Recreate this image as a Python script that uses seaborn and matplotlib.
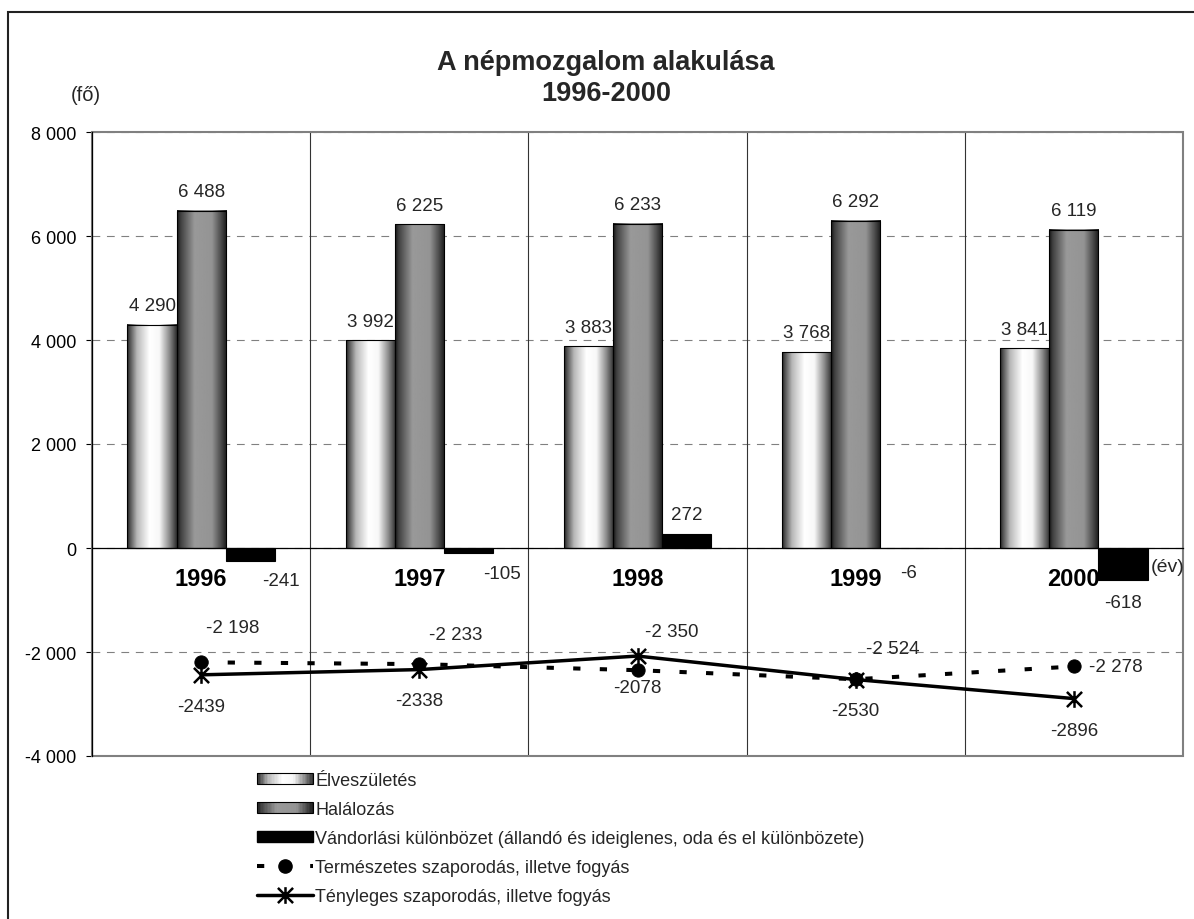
import numpy as np
import pandas as pd
import seaborn as sns
import matplotlib.pyplot as plt
from matplotlib.path import Path
from matplotlib.patches import Patch, Rectangle
from matplotlib.lines import Line2D
from matplotlib.legend_handler import HandlerBase
from matplotlib.ticker import FuncFormatter, MultipleLocator

years = ['1996', '1997', '1998', '1999', '2000']
births = [4290, 3992, 3883, 3768, 3841]
deaths = [6488, 6225, 6233, 6292, 6119]
migration = [-241, -105, 272, -6, -618]
natural = [-2198, -2233, -2350, -2524, -2278]
actual = [-2439, -2338, -2078, -2530, -2896]

series_names = ['Élveszületés', 'Halálozás',
                'Vándorlási különbözet (állandó és ideiglenes, oda és el különbözete)']
nat_name = 'Természetes szaporodás, illetve fogyás'
act_name = 'Tényleges szaporodás, illetve fogyás'

# cylinder-like shading profiles (position, grey level)
birth_prof = ([0, 0.05, 0.2, 0.45, 0.65, 0.85, 1.0], [0.12, 0.3, 0.72, 1.0, 0.97, 0.55, 0.18])
death_prof = ([0, 0.07, 0.35, 0.7, 0.88, 1.0], [0.08, 0.25, 0.6, 0.58, 0.3, 0.1])

W, H = 1194, 920


def fmt_sp(v):
    return f"{v:,.0f}".replace(',', ' ')


class GradientHandler(HandlerBase):
    def __init__(self, prof):
        super().__init__()
        self.prof = prof

    def create_artists(self, legend, orig_handle, xdescent, ydescent, width, height, fontsize, trans):
        n = 40
        arts = []
        for i in range(n):
            g = np.interp((i + 0.5) / n, *self.prof)
            arts.append(Rectangle((-xdescent + i * width / n, -ydescent), width / n * 1.05, height,
                                  facecolor=str(g), edgecolor='none', transform=trans))
        arts.append(Rectangle((-xdescent, -ydescent), width, height, fill=False,
                              edgecolor='black', lw=0.8, transform=trans))
        return arts


sns.set_theme(style='white')
plt.rcParams['font.family'] = ['Liberation Sans', 'DejaVu Sans']

df = pd.DataFrame({
    'year': years * 3,
    'value': births + deaths + migration,
    'series': [series_names[0]] * 5 + [series_names[1]] * 5 + [series_names[2]] * 5,
})

fig = plt.figure(figsize=(W / 100, H / 100), dpi=100)
ax = fig.add_axes([92 / W, 1 - 757 / H, (1183 - 92) / W, (757 - 133) / H])

sns.barplot(data=df, x='year', y='value', hue='series', palette=['#dddddd', '#777777', 'black'],
            width=0.675, edgecolor='black', linewidth=0.8, saturation=1, errorbar=None,
            legend=False, ax=ax)

# shaded bars
for k, prof in enumerate([birth_prof, death_prof]):
    grad = np.interp(np.linspace(0, 1, 128), *prof)[None, :]
    for bar in ax.containers[k]:
        x0, y0 = bar.get_xy()
        ax.imshow(grad, extent=(x0, x0 + bar.get_width(), y0, y0 + bar.get_height()),
                  cmap='gray', vmin=0, vmax=1, aspect='auto', interpolation='bilinear', zorder=0.9)
        bar.set_facecolor('none')
        bar.set_zorder(1)

xpos = np.arange(len(years))
star = Path([(-1, -1), (1, 1), (-1, 1), (1, -1), (0, -1.1), (0, 1.1)],
            [Path.MOVETO, Path.LINETO, Path.MOVETO, Path.LINETO, Path.MOVETO, Path.LINETO])
nat_style = dict(color='black', lw=2.9, linestyle=(0, (1.8, 4.8)), marker='o', ms=9.5, mec='black')
act_style = dict(color='black', lw=2.5, linestyle='-', marker=star, ms=12, mfc='none', mec='black', mew=1.8)
sns.lineplot(x=xpos, y=natural, ax=ax, zorder=3, **nat_style)
sns.lineplot(x=xpos, y=actual, ax=ax, zorder=3, **act_style)

ax.set_xlim(-0.5, len(years) - 0.5)
ax.set_ylim(-4000, 8000)
ax.yaxis.set_major_locator(MultipleLocator(2000))
ax.yaxis.set_major_formatter(FuncFormatter(lambda v, p: fmt_sp(v)))
ax.set_xlabel('')
ax.set_ylabel('')

ax.set_axisbelow(True)
ax.yaxis.grid(True, linestyle=(0, (7, 6)), color='#808080', lw=0.8)
ax.xaxis.grid(False)
for b in xpos[:-1] + 0.5:
    ax.axvline(b, color='#333333', lw=0.8, zorder=0.6)

for s in ['top', 'right']:
    ax.spines[s].set_visible(False)
ax.spines['bottom'].set_position(('data', 0))
ax.spines['bottom'].set_color('black')
ax.spines['bottom'].set_linewidth(0.9)
ax.spines['bottom'].set_zorder(2)
ax.spines['left'].set_color('black')
ax.spines['left'].set_linewidth(0.9)
ax.add_patch(Rectangle((0, 0), 1, 1, transform=ax.transAxes, fill=False, ec='#808080',
                       lw=1.5, clip_on=False, zorder=0.7))

ax.tick_params(axis='y', left=True, length=4.3, width=0.8, color='black', pad=7, labelsize=13,
               labelcolor='black')
ax.tick_params(axis='x', bottom=False, length=0, pad=14, labelsize=17, labelcolor='black')
for lbl in ax.get_xticklabels():
    lbl.set_fontweight('bold')

# bar value labels
for k in range(2):
    for bar in ax.containers[k]:
        v = bar.get_height()
        ax.annotate(fmt_sp(v), (bar.get_x() + bar.get_width() / 2, v), xytext=(0, 10.5),
                    textcoords='offset points', ha='center', va='baseline', fontsize=13.5, zorder=4)

mig_offsets = [(22, -8, 'top'), (24, -8, 'top'), (0, 10.5, 'baseline'), (3, -11, 'top'), (0, -10, 'top')]
for bar, v, (dx, dy, va) in zip(ax.containers[2], migration, mig_offsets):
    ax.annotate(str(v), (bar.get_x() + bar.get_width() / 2, v), xytext=(dx, dy),
                textcoords='offset points', ha='center', va=va, fontsize=13.5, zorder=4)

nat_offsets = [(23, 22, 'center', 'baseline'), (26, 18, 'center', 'baseline'),
               (25, 24.5, 'center', 'baseline'), (27, 19, 'center', 'baseline'),
               (11, 0, 'left', 'center')]
for x, v, (dx, dy, ha, va) in zip(xpos, natural, nat_offsets):
    ax.annotate(fmt_sp(v), (x, v), xytext=(dx, dy), textcoords='offset points',
                ha=ha, va=va, fontsize=13.5, zorder=4)
for x, v in zip(xpos, actual):
    ax.annotate(str(v), (x, v), xytext=(0, -16.5), textcoords='offset points',
                ha='center', va='top', fontsize=13.5, zorder=4)

fig.text(606 / W, 1 - 50 / H, 'A népmozgalom alakulása\n1996-2000', ha='center', va='top',
         fontsize=19.5, fontweight='bold', linespacing=1.25)
fig.text(86 / W, 1 - 101 / H, '(fő)', ha='center', va='baseline', fontsize=14.5)
fig.text(1151 / W, 1 - 572 / H, '(év)', ha='left', va='baseline', fontsize=14)

# outer frame (left and top edges visible)
fig.add_artist(Rectangle((8 / W, -0.1), 1.2, 1.1 - 13 / H, transform=fig.transFigure,
                         fill=False, ec='#222222', lw=1.5))

p_birth = Patch(facecolor='white', edgecolor='black')
p_death = Patch(facecolor='grey', edgecolor='black')
p_mig = Patch(facecolor='black', edgecolor='black')
l_nat = Line2D([], [], **nat_style)
l_act = Line2D([], [], **act_style)
fig.legend(handles=[p_birth, p_death, p_mig, l_nat, l_act],
           labels=series_names + [nat_name, act_name],
           loc='upper left', bbox_to_anchor=(257 / W, 1 - 773 / H), bbox_transform=fig.transFigure,
           frameon=False, fontsize=13, handlelength=3.1, handleheight=0.55, handletextpad=0.12,
           labelspacing=0.66, borderpad=0, borderaxespad=0,
           handler_map={p_birth: GradientHandler(birth_prof), p_death: GradientHandler(death_prof)})

fig.savefig('out.png', dpi=100)
